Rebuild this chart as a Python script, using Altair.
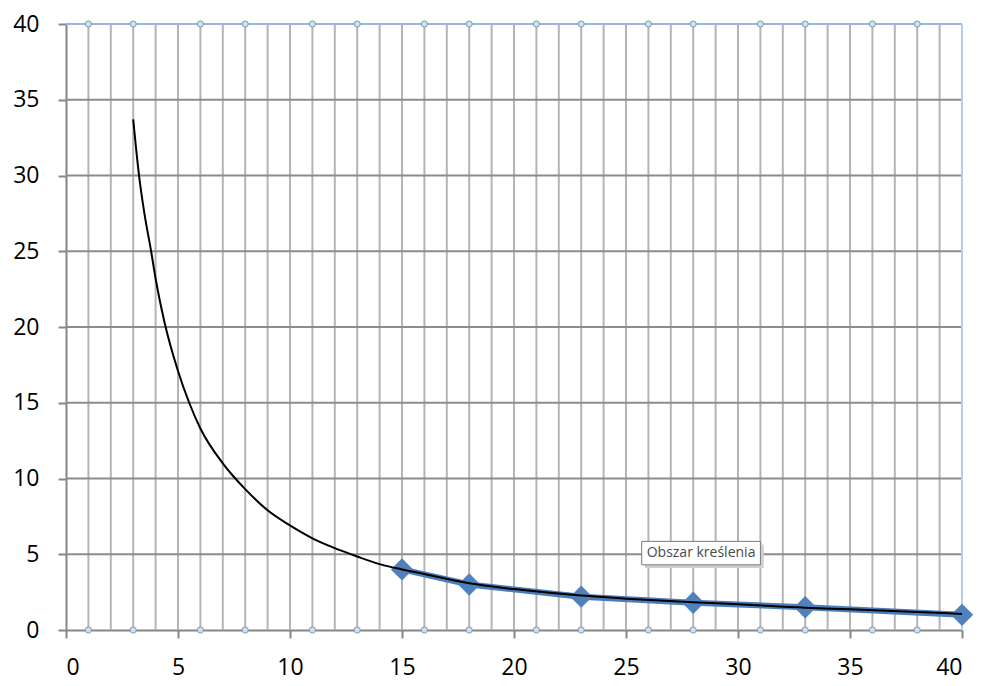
import altair as alt
import pandas as pd

# Black curve
curve_x = [3, 3.26, 3.5, 3.8, 4, 4.4, 5, 5.5, 6, 7, 7.5, 8, 9, 10, 11, 12, 13, 14, 15, 16, 18, 20, 23, 25, 28, 30, 33, 35, 38, 40]
curve_y = [33.7, 30.0, 27.5, 25.0, 23.2, 20.3, 17.1, 15.0, 13.3, 11.0, 10.1, 9.3, 7.9, 6.9, 6.05, 5.4, 4.85, 4.35, 4.0, 3.7, 3.08, 2.7, 2.27, 2.07, 1.83, 1.7, 1.47, 1.37, 1.19, 1.06]

# Blue series with diamond markers
pts_x = [15, 18, 23, 28, 33, 40]
pts_y = [4.0, 3.0, 2.2, 1.8, 1.5, 1.0]

# Grid positions
vgrid = list(range(1, 40))
hgrid = [5, 10, 15, 20, 25, 30, 35]
tick_vals = [0, 5, 10, 15, 20, 25, 30, 35, 40]

# Selection handle positions (top and bottom)
handle_x = [1, 3, 6, 8, 11, 13, 16, 18, 21, 23, 26, 28, 31, 33, 36, 38]
handle_y = [0, 40]

tip_text = "Obszar kreślenia"
tip_box = {"x": 25.7, "x2": 31.0, "y": 5.85, "y2": 4.3}

W, H = 896, 606
xs = alt.Scale(domain=[0, 40], nice=False, zero=True)
ys = alt.Scale(domain=[0, 40], nice=False, zero=True)

vg = pd.DataFrame({"x": vgrid})
vrules = alt.Chart(vg).mark_rule(color="#b4b4b4", strokeWidth=2).encode(
    x=alt.X("x:Q", scale=xs, axis=alt.Axis(values=tick_vals, labelPadding=18)),
    y=alt.datum(0), y2=alt.datum(40),
)

hg = pd.DataFrame({"y": hgrid})
hrules = alt.Chart(hg).mark_rule(color="#8c8c8c", strokeWidth=2).encode(
    y=alt.Y("y:Q", scale=ys, axis=alt.Axis(values=tick_vals, labelPadding=19)),
    x=alt.datum(0), x2=alt.datum(40),
)

top_line = alt.Chart(pd.DataFrame({"y": [40]})).mark_rule(color="#98b4e0", strokeWidth=2).encode(
    y=alt.Y("y:Q", scale=ys), x=alt.datum(0), x2=alt.datum(40),
)
right_line = alt.Chart(pd.DataFrame({"x": [40]})).mark_rule(color="#b6cdee", strokeWidth=2).encode(
    x=alt.X("x:Q", scale=xs), y=alt.datum(0), y2=alt.datum(40),
)

hd = pd.DataFrame([{"x": a, "y": b} for b in handle_y for a in handle_x])
handles = alt.Chart(hd).mark_point(
    shape="circle", filled=True, size=38, fill="#c9e2f2", stroke="#7f9cbc", strokeWidth=1, opacity=1
).encode(x=alt.X("x:Q", scale=xs), y=alt.Y("y:Q", scale=ys))

pdf = pd.DataFrame({"x": pts_x, "y": pts_y})
blue_line = alt.Chart(pdf).mark_line(color="#4a7ebb", strokeWidth=6).encode(
    x=alt.X("x:Q", scale=xs), y=alt.Y("y:Q", scale=ys)
)
diamonds = alt.Chart(pdf).mark_point(
    shape="diamond", filled=True, size=500, color="#4f81bd", opacity=1
).encode(x=alt.X("x:Q", scale=xs), y=alt.Y("y:Q", scale=ys))

cdf = pd.DataFrame({"x": curve_x, "y": curve_y, "o": list(range(len(curve_x)))})
curve = alt.Chart(cdf).mark_line(color="#000000", strokeWidth=2, interpolate="monotone").encode(
    x=alt.X("x:Q", scale=xs), y=alt.Y("y:Q", scale=ys), order="o:Q"
)

tb = pd.DataFrame([tip_box])
shadow = alt.Chart(tb).mark_rect(color="#d0d0d0").encode(
    x=alt.X("sx:Q", scale=xs), x2="sx2:Q", y=alt.Y("sy:Q", scale=ys), y2="sy2:Q"
).transform_calculate(sx="datum.x + 0.15", sx2="datum.x2 + 0.15", sy="datum.y - 0.2", sy2="datum.y2 - 0.2")
box = alt.Chart(tb).mark_rect(fill="#ffffff", stroke="#7a7a7a", strokeWidth=1).encode(
    x=alt.X("x:Q", scale=xs), x2="x2:Q", y=alt.Y("y:Q", scale=ys), y2="y2:Q"
)
txt = alt.Chart(pd.DataFrame({"x": [tip_box["x"]], "y": [(tip_box["y"] + tip_box["y2"]) / 2], "t": [tip_text]})).mark_text(
    align="left", baseline="middle", dx=5, font="Open Sans", fontSize=14, color="#4a4a4a"
).encode(x=alt.X("x:Q", scale=xs), y=alt.Y("y:Q", scale=ys), text="t:N")

chart = alt.layer(
    vrules, hrules, top_line, right_line, blue_line, diamonds, curve, handles, shadow, box, txt
).properties(
    width=W, height=H,
    autosize=alt.AutoSizeParams(type="none"),
    padding={"left": 58, "top": 16, "right": 18, "bottom": 54},
).configure_view(stroke=None).configure(background="#ffffff").configure_axis(
    domainColor="#868686", domainWidth=2, tickColor="#868686", tickWidth=2,
    tickSize=8, labelFont="Open Sans", labelFontSize=23, labelColor="#000000",
    grid=False, title=None, zindex=0,
)

chart.save("out.html", embed_options={"renderer": "svg", "actions": False})
